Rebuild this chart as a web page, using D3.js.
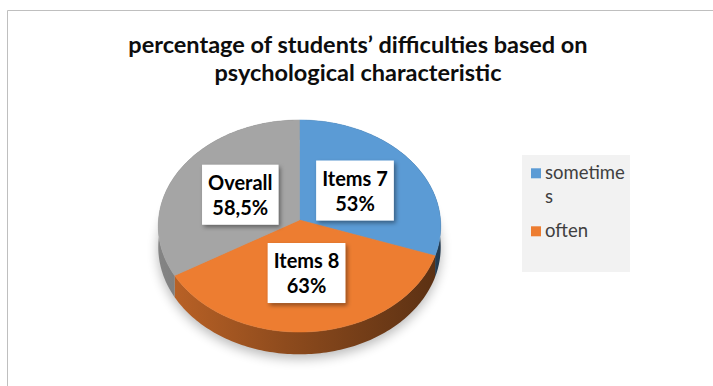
<!DOCTYPE html>
<html><head><meta charset="utf-8">
<script src="https://cdn.jsdelivr.net/npm/d3@7"></script>
<style>html,body{margin:0;padding:0;background:#fff;} svg{display:block}</style>
</head><body>
<script>
const titleLines = ["percentage of students’ difficulties based on", "psychological characteristic"];
const categories = ["Items 7", "Items 8", "Overall"];
const values = [53, 63, 58.5];
const valueLabels = ["53%", "63%", "58,5%"];
const sliceColors = ["#5B9BD5", "#ED7D31", "#A5A5A5"];
const legendLabels = ["sometimes", "often"];
const legendColors = ["#5B9BD5", "#ED7D31"];

const W = 713, H = 386;
const FONT = "Lato, 'Open Sans', sans-serif";
const svg = d3.select("body").append("svg").attr("width", W).attr("height", H);
const defs = svg.append("defs");

// chart border (extends beyond right/bottom)
svg.append("path").attr("d", `M7.5,${H + 2} V10.5 H${W + 2}`)
  .attr("fill", "none").attr("stroke", "#bfbfbf").attr("stroke-width", 1);

// title
const title = svg.append("text").attr("font-family", FONT).attr("font-weight", 700)
  .attr("font-size", 23.5).attr("fill", "#0d0d0d").attr("text-anchor", "middle");
titleLines.forEach((t, i) => title.append("tspan").attr("x", 358).attr("y", 53 + i * 28).text(t));

// 3D pie geometry (simple perspective projection)
const cx = 299.5, cy = 220, R = 141, Ry = 105.7, k = 0.0566, D = 21;
function proj(theta, r, drop) {
  const u = r * Math.sin(theta), v = -r * Math.cos(theta);
  const s = 1 / (1 - k * v);
  return [cx + R * u * s, cy + Ry * v * s + drop * s];
}
function arcPts(a0, a1, r, drop) {
  const n = Math.max(4, Math.ceil((a1 - a0) / 0.02));
  return d3.range(n + 1).map(i => proj(a0 + (a1 - a0) * i / n, r, drop));
}

const pie = d3.pie().sort(null).value(d => d);
const arcs = pie(values);

// filters
const blur = defs.append("filter").attr("id", "shadowBlur").attr("x", "-30%").attr("y", "-30%").attr("width", "160%").attr("height", "160%");
blur.append("feGaussianBlur").attr("stdDeviation", 6);
const ds = defs.append("filter").attr("id", "boxShadow").attr("x", "-20%").attr("y", "-20%").attr("width", "150%").attr("height", "150%");
ds.append("feDropShadow").attr("dx", 2).attr("dy", 2.5).attr("stdDeviation", 2).attr("flood-color", "#000").attr("flood-opacity", 0.4);

// wall gradients
arcs.forEach((a, i) => {
  const c = d3.color(sliceColors[i]);
  const g = defs.append("linearGradient").attr("id", "wall" + i)
    .attr("gradientUnits", "userSpaceOnUse").attr("x1", cx - R).attr("x2", cx + R).attr("y1", 0).attr("y2", 0);
  [[0, 0.8], [0.45, 0.6], [1, 0.38]].forEach(([o, f]) => {
    g.append("stop").attr("offset", o).attr("stop-color", d3.rgb(c.r * f, c.g * f, c.b * f));
  });
});

const line = d3.line();
// soft shadow under the pie
svg.append("path")
  .attr("d", line(arcPts(0, 2 * Math.PI, 1.0, D + 4)) + "Z")
  .attr("fill", "#000").attr("opacity", 0.28).attr("filter", "url(#shadowBlur)");

// walls
const gPie = svg.append("g");
arcs.forEach((a, i) => {
  const top = arcPts(a.startAngle, a.endAngle, 1, 0);
  const bot = arcPts(a.startAngle, a.endAngle, 1, D).reverse();
  gPie.append("path").attr("d", line(top.concat(bot)) + "Z").attr("fill", `url(#wall${i})`);
});
// top faces
arcs.forEach((a, i) => {
  const pts = [proj(0, 0, 0)].concat(arcPts(a.startAngle, a.endAngle, 1, 0));
  gPie.append("path").attr("d", line(pts) + "Z").attr("fill", sliceColors[i])
    .attr("stroke", sliceColors[i]).attr("stroke-width", 0.5);
});

// data labels
const gLab = svg.append("g").attr("font-family", FONT).attr("font-weight", 700).attr("font-size", 20).attr("fill", "#000");
arcs.forEach((a, i) => {
  const mid = (a.startAngle + a.endAngle) / 2;
  const [lx, ly] = proj(mid, 0.49, 0);
  const g = gLab.append("g").attr("transform", `translate(${lx},${ly})`);
  const rect = g.append("rect").attr("fill", "#fff").attr("filter", "url(#boxShadow)");
  const t = g.append("text").attr("text-anchor", "middle");
  t.append("tspan").attr("x", 0).attr("y", -5).text(categories[i]);
  t.append("tspan").attr("x", 0).attr("y", 20).text(valueLabels[i]);
  const bb = t.node().getBBox();
  const w = bb.width + 12, h = 60;
  rect.attr("x", -w / 2).attr("y", -30).attr("width", w).attr("height", h);
});

// legend
const lg = svg.append("g");
lg.append("rect").attr("x", 522).attr("y", 155).attr("width", 108).attr("height", 117).attr("fill", "#f2f2f2");
const lgText = lg.append("g").attr("font-family", FONT).attr("font-size", 18.5).attr("fill", "#404040");
let ly = 179.3;
const maxW = 630 - 545 - 1;
legendLabels.forEach((lab, i) => {
  lg.append("rect").attr("x", 531).attr("y", ly - 11).attr("width", 10).attr("height", 10).attr("fill", legendColors[i]);
  // character wrap to legend width
  const t = lgText.append("text").attr("x", 545).attr("y", ly);
  let cur = "";
  const lines = [];
  for (const ch of lab) {
    t.text(cur + ch);
    if (t.node().getComputedTextLength() > maxW && cur) { lines.push(cur); cur = ch; }
    else cur += ch;
  }
  lines.push(cur);
  t.text(null);
  lines.forEach((l, j) => t.append("tspan").attr("x", 545).attr("y", ly + j * 24).text(l));
  ly += lines.length * 24 + 10;
});
</script>
</body></html>
